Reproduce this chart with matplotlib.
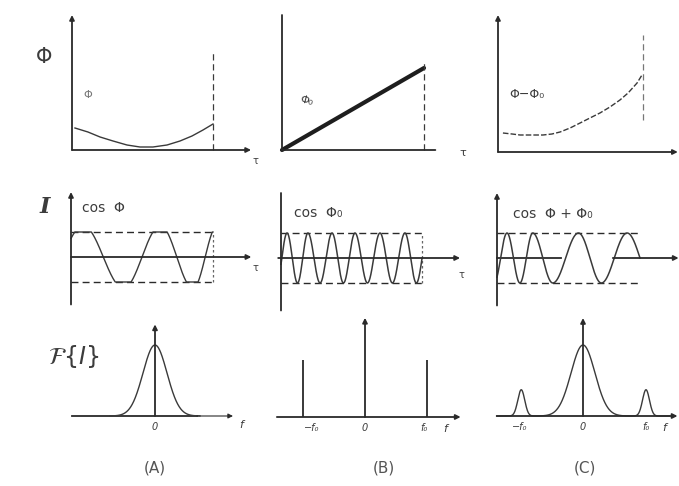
import numpy as np
import matplotlib
matplotlib.use("Agg")
import matplotlib.pyplot as plt

plt.rcParams['font.family'] = ['DejaVu Sans']

# ---------------- data ----------------
# Row 1: phase versus delay
phiA_tau = [0.021, 0.113, 0.199, 0.291, 0.390, 0.482, 0.574, 0.674, 0.766, 0.851, 0.929, 1.0]
phiA_val = [0.22, 0.18, 0.13, 0.09, 0.05, 0.03, 0.03, 0.05, 0.09, 0.14, 0.20, 0.26]
phiB_tau = [0.0, 1.0]
phiB_val = [0.0, 0.82]
phiC_tau = [0.034, 0.097, 0.152, 0.234, 0.310, 0.372, 0.428, 0.497, 0.566, 0.634,
            0.703, 0.772, 0.841, 0.897, 0.959, 0.993]
phiC_val = [0.19, 0.18, 0.17, 0.17, 0.17, 0.18, 0.20, 0.24, 0.29, 0.34,
            0.39, 0.45, 0.52, 0.59, 0.69, 0.77]

# Row 2: fringe extrema positions (alternating max / min, starting with a max)
fringeA_ext = [0.085, 0.37, 0.63, 0.86, 1.03]
fringeB_ext = [0.043, 0.117, 0.191, 0.277, 0.362, 0.443, 0.525, 0.613, 0.702, 0.79, 0.879, 0.96]
fringeC_ext = [0.07, 0.16, 0.25, 0.39, 0.57, 0.73, 0.91]
fringe_saturation = [1.25, 1.0, 1.0]

# Row 3: spectra
specA_centers = [0.0]
specA_heights = [1.0]
specA_widths = [0.2]
specB_lines = [-1.0, 1.0]
specB_heights = [1.0, 1.0]
specB_dc = 1.74
specC_centers = [-0.98, 0.0, 1.0]
specC_heights = [0.37, 1.0, 0.37]
specC_widths = [0.055, 0.19, 0.055]

row_labels = ["Φ", "I", r"$\mathcal{F}\{I\}$"]
fringe_texts = ["cos  Φ", "cos  Φ₀", "cos  Φ + Φ₀"]
freq_ticks = ["−f₀", "0", "f₀"]
panel_names = ["(A)", "(B)", "(C)"]

# ---------------- drawing ----------------
W, H = 679, 486
fig = plt.figure(figsize=(W / 100, H / 100), dpi=100)
fig.patch.set_facecolor("white")

LC = "#2a2a2a"     # axis ink
CC = "#3a3a3a"     # curve ink
TC = "#3c3c3c"     # text ink


def panel(box, origin, sx, sy):
    l, t, r, b = box
    x0, y0 = origin
    ax = fig.add_axes([l / W, 1 - b / H, (r - l) / W, (b - t) / H])
    ax.set_xlim((l - x0) / sx, (r - x0) / sx)
    ax.set_ylim((y0 - b) / sy, (y0 - t) / sy)
    ax.axis("off")
    return ax


def arrow(ax, p0, p1, lw=1.3, head=True):
    ax.annotate("", xy=p1, xytext=p0,
                arrowprops=dict(arrowstyle="-|>" if head else "-", lw=lw, color=LC,
                                mutation_scale=7, shrinkA=0, shrinkB=0))


def ftext(x, y, s, **kw):
    kw.setdefault("color", TC)
    kw.setdefault("ha", "center")
    kw.setdefault("va", "center")
    fig.text(x / W, 1 - y / H, s, **kw)


def fringe(tau, ext, sat):
    ext = np.asarray(ext)
    ph = np.pi * np.arange(len(ext))
    s0 = np.pi / (ext[1] - ext[0])
    s1 = np.pi / (ext[-1] - ext[-2])
    phase = np.interp(tau, ext, ph)
    phase = np.where(tau < ext[0], (tau - ext[0]) * s0, phase)
    phase = np.where(tau > ext[-1], ph[-1] + (tau - ext[-1]) * s1, phase)
    return np.clip(sat * np.cos(phase), -1, 1)


def gauss_sum(f, centers, heights, widths):
    y = np.zeros_like(f)
    for c, h, w in zip(centers, heights, widths):
        y += h * np.exp(-0.5 * ((f - c) / w) ** 2)
    return y


dash = (0, (5, 3))

# ---- Row 1 ----
ax = panel((60, 5, 262, 172), (72, 150), 141, 100)
arrow(ax, (0, 0), (1.27, 0))
arrow(ax, (0, 0), (0, 1.35))
ax.plot(phiA_tau, phiA_val, color=CC, lw=1.0)
ax.plot([1, 1], [0, 0.98], color=CC, lw=0.9, ls=dash)
ax.text(0.11, 0.55, "Φ", fontsize=8, color="#777777", ha="center", va="center")

ax = panel((268, 5, 470, 172), (282, 150), 142, 100)
arrow(ax, (0, 0), (1.08, 0), head=False)
arrow(ax, (0, 0), (0, 1.35), head=False)
ax.plot(phiB_tau, phiB_val, color="#1e1e1e", lw=3.0, solid_capstyle="round")
ax.plot([1, 1], [0, 0.9], color=CC, lw=0.9, ls=dash)
ax.text(0.17, 0.49, "Φ₀", fontsize=8, color=TC, ha="center", va="center", rotation=-15)

ax = panel((485, 5, 679, 172), (498, 152), 145, 100)
arrow(ax, (0, 0), (1.24, 0))
arrow(ax, (0, 0), (0, 1.37))
ax.plot(phiC_tau, phiC_val, color=CC, lw=1.0, ls=(0, (4, 1.5)))
ax.plot([1.0, 1.0], [0.32, 1.17], color="#777777", lw=0.9, ls=dash)
ax.text(0.2, 0.57, "Φ−Φ₀", fontsize=9, color=TC, ha="center", va="center")

ftext(44, 57, row_labels[0], fontsize=15)
ftext(255, 161, "τ", fontsize=7)
ftext(463, 153, "τ", fontsize=8)

# ---- Row 2 ----
tau = np.linspace(0, 1, 800)

ax = panel((60, 185, 262, 315), (71, 257), 142, 25)
arrow(ax, (0, 0), (1.27, 0))
arrow(ax, (0, -1.9), (0, 2.6))
for lev in (1, -1):
    ax.plot([0, 1], [lev, lev], color=LC, lw=1.0, ls=dash)
ax.plot([1, 1], [-1, 1], color="#666666", lw=0.9, ls=(0, (2, 2)))
ax.plot(tau, fringe(tau, fringeA_ext, fringe_saturation[0]), color=CC, lw=1.0)
ax.text(0.08, 1.95, fringe_texts[0], fontsize=10, color=TC, ha="left", va="center")

ax = panel((268, 185, 475, 315), (281, 258), 141, 25)
arrow(ax, (-0.02, 0), (1.27, 0))
arrow(ax, (0, -2.1), (0, 2.6), head=False)
for lev in (1, -1):
    ax.plot([0, 1], [lev, lev], color=LC, lw=1.0, ls=dash)
ax.plot([1, 1], [-1, 1], color="#666666", lw=0.9, ls=(0, (2, 2)))
ax.plot(tau, fringe(tau, fringeB_ext, fringe_saturation[1]), color=CC, lw=1.1)
ax.text(0.09, 1.8, fringe_texts[1], fontsize=10, color=TC, ha="left", va="center")

ax = panel((485, 185, 679, 315), (497, 258), 143, 25)
ax.plot([0, 0.45], [0, 0], color=LC, lw=1.3)
arrow(ax, (0.81, 0), (1.27, 0))
arrow(ax, (0, -1.9), (0, 2.6))
for lev in (1, -1):
    ax.plot([0, 1], [lev, lev], color=LC, lw=1.0, ls=dash)
ax.plot(tau, fringe(tau, fringeC_ext, fringe_saturation[2]), color=CC, lw=1.1)
ax.text(0.11, 1.75, fringe_texts[2], fontsize=10, color=TC, ha="left", va="center")

ftext(45, 207, row_labels[1], fontsize=16, family="DejaVu Serif", style="italic", weight="bold")
ftext(255, 268, "τ", fontsize=7)
ftext(461, 275, "τ", fontsize=7)

# ---- Row 3 ----
ax = panel((60, 310, 262, 440), (155, 416), 60, 71)
f = np.linspace(-0.75, 0.75, 400)
ax.plot([-1.38, 0.7], [0, 0], color=LC, lw=1.3)
arrow(ax, (0.7, 0), (1.3, 0), lw=0.8)
arrow(ax, (0, 0), (0, 1.29))
ax.plot(f, gauss_sum(f, specA_centers, specA_heights, specA_widths), color=CC, lw=1.0)
ax.text(0, -0.16, freq_ticks[1], fontsize=7, color=TC, ha="center", va="center", style="italic")

ax = panel((268, 310, 475, 440), (365, 417), 62.5, 57)
arrow(ax, (-1.41, 0), (1.53, 0))
arrow(ax, (0, 0), (0, specB_dc))
ax.vlines(specB_lines, 0, specB_heights, color=LC, lw=1.3)
for x, s in zip([-1, 0, 1], freq_ticks):
    ax.text(x + (0.15 if x < 0 else (-0.05 if x > 0 else 0)), -0.2, s, fontsize=7,
            color=TC, ha="center", va="center", style="italic")

ax = panel((485, 310, 679, 440), (583, 416), 63, 71)
fC = np.linspace(-1.37, 1.37, 1200)
arrow(ax, (-1.37, 0), (1.5, 0))
arrow(ax, (0, 0), (0, 1.38))
ax.plot(fC, gauss_sum(fC, specC_centers, specC_heights, specC_widths), color=CC, lw=1.0)
for x, s in zip([-1, 0, 1], freq_ticks):
    ax.text(x, -0.15, s, fontsize=7, color=TC, ha="center", va="center", style="italic")

ftext(74, 356, row_labels[2], fontsize=17)
ftext(241, 425, "f", fontsize=8, style="italic")
ftext(445, 429, "f", fontsize=8, style="italic")
ftext(664, 428, "f", fontsize=8, style="italic")

for x, s in zip([155, 384, 585], panel_names):
    ftext(x, 468, s, fontsize=11, color="#555555")

fig.savefig("out.png", dpi=100, facecolor="white")
